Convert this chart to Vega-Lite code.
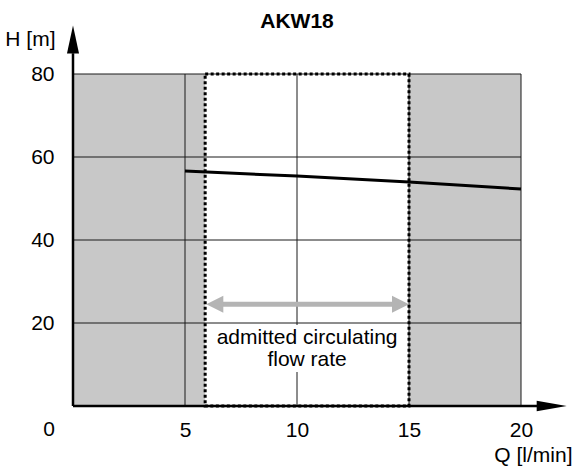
{
  "$schema": "https://vega.github.io/schema/vega-lite/v6.json",
  "width": 448,
  "height": 332,
  "autosize": "none",
  "padding": {"left": 73, "top": 74, "right": 53, "bottom": 67},
  "background": "white",
  "config": {"view": {"stroke": null}, "font": "Liberation Sans"},
  "title": {"text": "AKW18", "fontSize": 21, "fontWeight": "bold", "anchor": "middle", "frame": "group", "offset": 10, "dy": 16, "color": "black", "font": "Liberation Sans"},
  "datasets": {
    "bands": [{"q1": 0, "q2": 5.9}, {"q1": 15, "q2": 20}],
    "vgrid": [{"q": 5}, {"q": 10}, {"q": 15}, {"q": 20}],
    "hgrid": [{"h": 20}, {"h": 40}, {"h": 60}, {"h": 80}],
    "curve": [{"q": 5, "h": 56.6}, {"q": 10, "h": 55.4}, {"q": 15, "h": 54.0}, {"q": 20, "h": 52.3}],
    "box": [{"q1": 6.4, "q2": 14.5, "h1": 8.2, "h2": 19.5}],
    "label": [{"q": 10.45, "h": 16.4, "t": "admitted circulating"}, {"q": 10.45, "h": 11.1, "t": "flow rate"}],
    "shaft": [{"q1": 6.5, "q2": 14.5, "h": 24.5}],
    "heads": [{"q": 6.33, "h": 24.5, "side": "left"}, {"q": 14.62, "h": 24.5, "side": "right"}],
    "zone": [{"q1": 5.9, "q2": 15, "h1": 0, "h2": 80}],
    "xaxis": [{"q1": 0, "q2": 21, "h": 0}],
    "yaxis": [{"q": 0, "h1": 0, "h2": 85}],
    "xhead": [{"q": 21.37, "h": 0}],
    "yhead": [{"q": 0, "h": 88.3}],
    "zero": [{"q": 0, "h": 0, "t": "0"}]
  },
  "layer": [
    {
      "data": {"name": "bands"},
      "mark": {"type": "rect", "color": "#c8c8c8"},
      "encoding": {
        "x": {"field": "q1", "type": "quantitative",
          "scale": {"domain": [0, 20], "nice": false, "zero": false},
          "axis": {"values": [5, 10, 15, 20], "domain": false, "ticks": false, "grid": false,
            "labelFontSize": 21, "labelPadding": 13, "labelColor": "black", "labelFlush": false, "labelOverlap": false,
            "title": "Q [l/min]", "titleFontSize": 21, "titleFontWeight": "normal", "titleColor": "black",
            "titleX": 499, "titleY": 49, "titleAlign": "right", "titleBaseline": "middle", "titleAngle": 0}},
        "x2": {"field": "q2"},
        "y": {"datum": 0, "type": "quantitative",
          "scale": {"domain": [0, 80], "nice": false, "zero": false},
          "axis": {"values": [20, 40, 60, 80], "domain": false, "ticks": false, "grid": false,
            "labelFontSize": 21, "labelPadding": 19, "labelColor": "black", "labelFlush": false, "labelOverlap": false,
            "title": "H [m]", "titleFontSize": 21, "titleFontWeight": "normal", "titleColor": "black",
            "titleX": -18, "titleY": -35, "titleAlign": "right", "titleBaseline": "middle", "titleAngle": 0}},
        "y2": {"datum": 80}
      }
    },
    {
      "data": {"name": "vgrid"},
      "mark": {"type": "rule", "color": "#1a1a1a", "strokeWidth": 1},
      "encoding": {"x": {"field": "q", "type": "quantitative"}, "y": {"datum": 0}, "y2": {"datum": 80}}
    },
    {
      "data": {"name": "hgrid"},
      "mark": {"type": "rule", "color": "#1a1a1a", "strokeWidth": 1},
      "encoding": {"y": {"field": "h", "type": "quantitative"}, "x": {"datum": 0}, "x2": {"datum": 20}}
    },
    {
      "data": {"name": "box"},
      "mark": {"type": "rect", "color": "white"},
      "encoding": {"x": {"field": "q1", "type": "quantitative"}, "x2": {"field": "q2"}, "y": {"field": "h1", "type": "quantitative"}, "y2": {"field": "h2"}}
    },
    {
      "data": {"name": "label"},
      "mark": {"type": "text", "fontSize": 21, "color": "black", "align": "center", "baseline": "middle"},
      "encoding": {"x": {"field": "q", "type": "quantitative"}, "y": {"field": "h", "type": "quantitative"}, "text": {"field": "t"}}
    },
    {
      "data": {"name": "shaft"},
      "mark": {"type": "rule", "color": "#b4b4b4", "strokeWidth": 5},
      "encoding": {"x": {"field": "q1", "type": "quantitative"}, "x2": {"field": "q2"}, "y": {"field": "h", "type": "quantitative"}}
    },
    {
      "data": {"name": "heads"},
      "mark": {"type": "point", "filled": true, "color": "#b4b4b4", "opacity": 1, "size": 289, "strokeWidth": 0},
      "encoding": {"x": {"field": "q", "type": "quantitative"}, "y": {"field": "h", "type": "quantitative"},
        "shape": {"field": "side", "type": "nominal", "legend": null,
          "scale": {"domain": ["left", "right"], "range": ["M-1,0L1,-1L1,1Z", "M1,0L-1,-1L-1,1Z"]}}}
    },
    {
      "data": {"name": "zone"},
      "mark": {"type": "rect", "fill": null, "fillOpacity": 0, "stroke": "black", "strokeWidth": 3, "strokeDash": [3, 2.5]},
      "encoding": {"x": {"field": "q1", "type": "quantitative"}, "x2": {"field": "q2"}, "y": {"field": "h1", "type": "quantitative"}, "y2": {"field": "h2"}}
    },
    {
      "data": {"name": "curve"},
      "mark": {"type": "line", "color": "black", "strokeWidth": 3},
      "encoding": {"x": {"field": "q", "type": "quantitative"}, "y": {"field": "h", "type": "quantitative"}}
    },
    {
      "data": {"name": "xaxis"},
      "mark": {"type": "rule", "color": "black", "strokeWidth": 2.5},
      "encoding": {"x": {"field": "q1", "type": "quantitative"}, "x2": {"field": "q2"}, "y": {"field": "h", "type": "quantitative"}}
    },
    {
      "data": {"name": "yaxis"},
      "mark": {"type": "rule", "color": "black", "strokeWidth": 2.5},
      "encoding": {"x": {"field": "q", "type": "quantitative"}, "y": {"field": "h1", "type": "quantitative"}, "y2": {"field": "h2"}}
    },
    {
      "data": {"name": "xhead"},
      "mark": {"type": "point", "filled": true, "color": "black", "opacity": 1, "size": 900, "strokeWidth": 0, "shape": "M1,0L-1,-0.35L-1,0.35Z"},
      "encoding": {"x": {"field": "q", "type": "quantitative"}, "y": {"field": "h", "type": "quantitative"}}
    },
    {
      "data": {"name": "yhead"},
      "mark": {"type": "point", "filled": true, "color": "black", "opacity": 1, "size": 784, "strokeWidth": 0, "shape": "M0,-1L0.43,1L-0.43,1Z"},
      "encoding": {"x": {"field": "q", "type": "quantitative"}, "y": {"field": "h", "type": "quantitative"}}
    },
    {
      "data": {"name": "zero"},
      "mark": {"type": "text", "fontSize": 21, "color": "black", "align": "right", "baseline": "middle", "dx": -18, "dy": 24},
      "encoding": {"x": {"field": "q", "type": "quantitative"}, "y": {"field": "h", "type": "quantitative"}, "text": {"field": "t"}}
    }
  ]
}
